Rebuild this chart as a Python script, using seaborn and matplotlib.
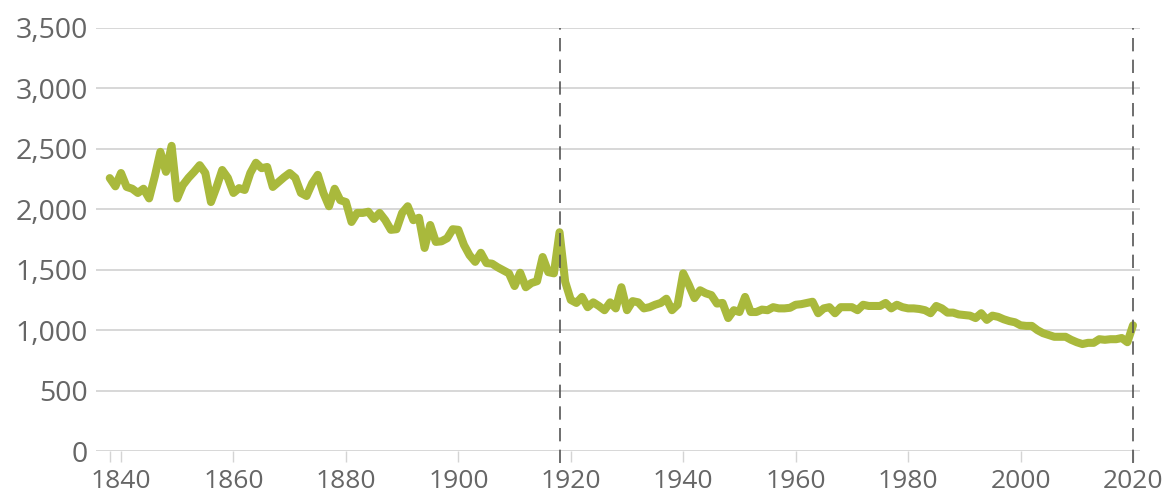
import numpy as np
import pandas as pd
import seaborn as sns
import matplotlib.pyplot as plt

# annual values, 1838-2020
years = list(range(1838, 2021))
values = [
    2258, 2190, 2300, 2185, 2170, 2135, 2170, 2090, 2270, 2475,  # 1838-1847
    2310, 2525, 2090, 2200, 2260, 2310, 2365, 2300, 2060, 2185,  # 1848-1857
    2325, 2260, 2135, 2175, 2160, 2300, 2385, 2340, 2350, 2185,  # 1858-1867
    2225, 2265, 2300, 2260, 2135, 2110, 2215, 2285, 2135, 2025,  # 1868-1877
    2170, 2075, 2060, 1895, 1970, 1970, 1980, 1920, 1970, 1910,  # 1878-1887
    1830, 1835, 1970, 2025, 1910, 1930, 1680, 1870, 1730, 1735,  # 1888-1897
    1760, 1835, 1830, 1705, 1620, 1565, 1640, 1555, 1550, 1520,  # 1898-1907
    1495, 1470, 1365, 1475, 1355, 1390, 1405, 1605, 1480, 1470,  # 1908-1917
    1810, 1400, 1250, 1225, 1275, 1190, 1230, 1200, 1165, 1230,  # 1918-1927
    1180, 1355, 1165, 1240, 1230, 1180, 1190, 1210, 1225, 1260,  # 1928-1937
    1165, 1210, 1470, 1375, 1265, 1330, 1305, 1290, 1220, 1225,  # 1938-1947
    1100, 1165, 1150, 1275, 1150, 1150, 1170, 1165, 1190, 1180,  # 1948-1957
    1180, 1185, 1210, 1215, 1225, 1235, 1140, 1180, 1190, 1140,  # 1958-1967
    1190, 1190, 1190, 1165, 1210, 1200, 1200, 1200, 1225, 1180,  # 1968-1977
    1210, 1190, 1180, 1180, 1175, 1165, 1140, 1200, 1180, 1145,  # 1978-1987
    1145, 1130, 1125, 1120, 1100, 1140, 1085, 1120, 1110, 1090,  # 1988-1997
    1075, 1065, 1040, 1035, 1035, 1000, 975, 960, 945, 945,      # 1998-2007
    945, 920, 900, 885, 895, 895, 925, 920, 925, 925,            # 2008-2017
    935, 900, 1040,                                              # 2018-2020
]
marker_years = [1918, 2020]
x_ticks = list(range(1840, 2021, 20))
y_ticks = list(range(0, 3501, 500))

df = pd.DataFrame({'year': years, 'value': values})

sns.set_theme(style='white')
plt.rcParams['font.family'] = ['Open Sans', 'DejaVu Sans']

fig = plt.figure(figsize=(11.67, 4.98), dpi=100)
ax = fig.add_axes([96 / 1167, 47 / 498, (1140 - 96) / 1167, 423 / 498])

sns.lineplot(data=df, x='year', y='value', color='#a9b93c', linewidth=5.8,
             solid_joinstyle='round', solid_capstyle='round', ax=ax, zorder=3)

for yr in marker_years:
    ax.axvline(yr, ymin=-0.028, ymax=1.0, color='#555555', linewidth=1.2,
               linestyle=(0, (8, 5)), clip_on=False, zorder=4)

ax.set_xlim(1840 - 25 / 5.622, 2020 + 7 / 5.622)
ax.set_ylim(0, 3500)

ax.set_yticks(y_ticks)
ax.set_yticklabels([f'{v:,}' for v in y_ticks])
ax.set_xticks(x_ticks)
ax.set_xticklabels([str(v) for v in x_ticks],
                   family=['Liberation Sans Narrow', 'Open Sans'])
ax.set_xticks([1838], minor=True)

ax.grid(axis='y', color='#d4d4d4', linewidth=1.3)
ax.set_axisbelow(True)
for s in ax.spines.values():
    s.set_visible(False)

ax.tick_params(axis='y', length=0, pad=6, labelsize=20.5, labelcolor='#666666')
ax.tick_params(axis='x', which='both', length=8, width=1, color='#d4d4d4',
               direction='out', bottom=True, pad=5, labelsize=19,
               labelcolor='#666666')
ax.set_xlabel('')
ax.set_ylabel('')

fig.savefig('out.png', dpi=100)
